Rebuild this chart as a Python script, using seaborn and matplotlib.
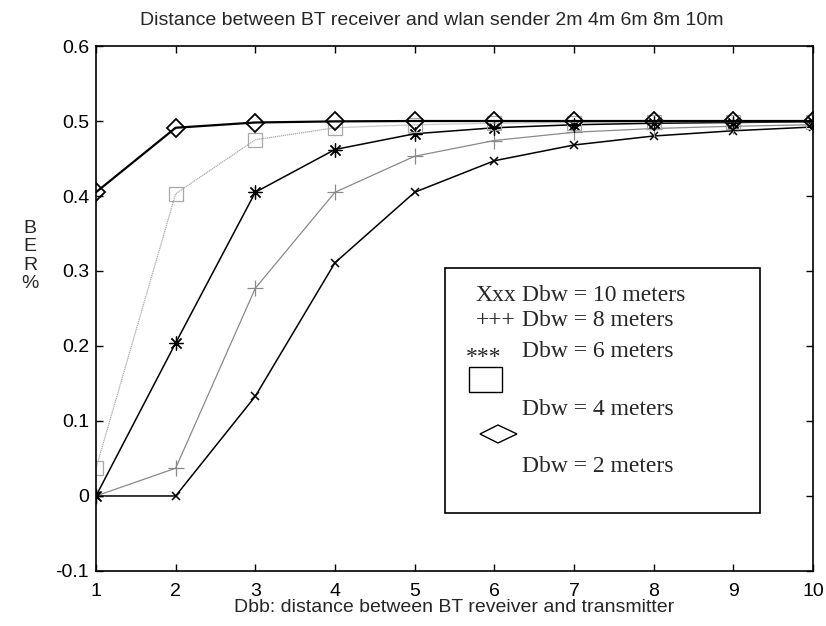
import pandas as pd
import matplotlib.pyplot as plt
import matplotlib.patches as mpatches
import seaborn as sns

# Distance between BT receiver and transmitter (Dbb)
dbb = [1, 2, 3, 4, 5, 6, 7, 8, 9, 10]

# BER, one list per wlan sender distance (Dbw)
ber_10m = [0.0, 0.0, 0.133, 0.311, 0.405, 0.447, 0.468, 0.480, 0.487, 0.492]
ber_8m = [0.0, 0.037, 0.277, 0.405, 0.453, 0.474, 0.485, 0.490, 0.493, 0.495]
ber_6m = [0.0, 0.204, 0.405, 0.462, 0.483, 0.491, 0.495, 0.497, 0.498, 0.499]
ber_4m = [0.037, 0.403, 0.475, 0.491, 0.495, 0.497, 0.498, 0.499, 0.499, 0.499]
ber_2m = [0.405, 0.491, 0.498, 0.4995, 0.5, 0.5, 0.5, 0.5, 0.5, 0.5]

series = {
    "10": ber_10m,
    "8": ber_8m,
    "6": ber_6m,
    "4": ber_4m,
    "2": ber_2m,
}

df = pd.DataFrame([
    {"Dbb": x, "BER": y, "Dbw": name}
    for name, vals in series.items()
    for x, y in zip(dbb, vals)
])

# line / marker style for each series
styles = {
    "10": dict(color="black", lw=1.1, ls="-", marker="x", ms=6, mew=1.1),
    "8": dict(color="#8a8a8a", lw=0.9, ls="-", marker="+", ms=11, mew=0.9),
    "6": dict(color="black", lw=1.1, ls="-", marker=(8, 2, 0), ms=10, mew=0.9),
    "4": dict(color="#a8a8a8", lw=0.9, ls=(0, (1, 0.6)), marker="s", ms=10, mew=0.9),
    "2": dict(color="black", lw=1.6, ls="-", marker="D", ms=9, mew=1.3),
}

sns.set_style("ticks")
plt.rcParams["font.family"] = ["Liberation Sans", "DejaVu Sans"]

fig = plt.figure(figsize=(8.26, 6.26), dpi=100)
ax = fig.add_axes([0.1162, 0.0879, 0.868, 0.8386])

for name in ["10", "8", "6", "4", "2"]:
    st = styles[name]
    sns.lineplot(
        data=df[df["Dbw"] == name], x="Dbb", y="BER", ax=ax,
        color=st["color"], linewidth=st["lw"], linestyle=st["ls"],
        marker=st["marker"], markersize=st["ms"], markeredgewidth=st["mew"],
        markerfacecolor="none", markeredgecolor=st["color"],
        legend=False, errorbar=None,
    )

ax.set_xlim(1, 10)
ax.set_ylim(-0.1, 0.6)
ax.set_xticks(range(1, 11))
ax.set_yticks([-0.1, 0, 0.1, 0.2, 0.3, 0.4, 0.5, 0.6])
ax.set_yticklabels(["-0.1", "0", "0.1", "0.2", "0.3", "0.4", "0.5", "0.6"])
ax.tick_params(direction="in", length=5, width=1, top=True, right=True,
               labelsize=14, pad=5, colors="black")
ax.tick_params(axis="x", pad=9)
for sp in ax.spines.values():
    sp.set_visible(True)
    sp.set_linewidth(1.2)
    sp.set_color("black")

ax.set_xlabel("Dbb: distance between BT reveiver and transmitter", fontsize=14, labelpad=-1)
ax.set_ylabel("B\nE\nR\n%", rotation=0, fontsize=14, linespacing=1.1, va="center", ha="center")
ax.yaxis.set_label_coords(-0.092, 0.6)
fig.text(0.523, 0.968, "Distance between BT receiver and wlan sender 2m 4m 6m 8m 10m",
         ha="center", va="center", fontsize=14)


# custom legend box, drawn in axes fractions (pixel positions of the reference)
def fx(px):
    return (px - 96) / 717


def fy(py):
    return (571 - py) / 525


ax.add_patch(mpatches.Rectangle((fx(445), fy(513)), fx(760) - fx(445), fy(268) - fy(513),
                                transform=ax.transAxes, fill=True, facecolor="white",
                                edgecolor="black", lw=1.2, zorder=5))
serif = ["Liberation Serif", "DejaVu Serif"]
leg_kw = dict(transform=ax.transAxes, fontsize=17, family=serif, va="center", zorder=6)
ax.text(fx(476), fy(296), "Xxx", **leg_kw)
ax.text(fx(522), fy(296), "Dbw = 10 meters", **leg_kw)
ax.text(fx(476), fy(321), "+++", **leg_kw)
ax.text(fx(522), fy(321), "Dbw = 8 meters", **leg_kw)
ax.text(fx(466), fy(358), "***", **leg_kw)
ax.text(fx(522), fy(352), "Dbw = 6 meters", **leg_kw)
ax.text(fx(522), fy(410), "Dbw = 4 meters", **leg_kw)
ax.text(fx(522), fy(467), "Dbw = 2 meters", **leg_kw)
ax.add_patch(mpatches.Rectangle((fx(469), fy(392)), fx(502) - fx(469), fy(367) - fy(392),
                                transform=ax.transAxes, fill=False, edgecolor="black",
                                lw=1.0, zorder=6))
ax.add_patch(mpatches.Polygon([(fx(480), fy(434)), (fx(498), fy(425)),
                               (fx(517), fy(434)), (fx(498), fy(443))],
                              closed=True, transform=ax.transAxes, fill=False,
                              edgecolor="black", lw=1.0, zorder=6))

fig.savefig("out.png", dpi=100, facecolor="white")
